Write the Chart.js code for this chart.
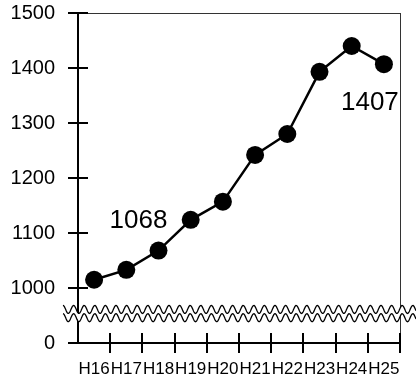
<!DOCTYPE html>
<html>
<head>
<meta charset="utf-8">
<script src="https://cdn.jsdelivr.net/npm/chart.js@4/dist/chart.umd.min.js"></script>
<style>
  html, body { margin: 0; padding: 0; background: #fff; }
  #wrap { width: 416px; height: 382px; }
</style>
</head>
<body>
<div id="wrap"><canvas id="c" width="416" height="382"></canvas></div>
<script>
"use strict";

// fiscal years (Heisei)
var years = ["H16", "H17", "H18", "H19", "H20", "H21", "H22", "H23", "H24", "H25"];
var counts = [1015, 1033, 1068, 1124, 1157, 1242, 1280, 1393, 1440, 1407];
var yTicks = [900, 1000, 1100, 1200, 1300, 1400, 1500];
// 900 stands in for 0 below the axis break
var yTickNames = ["0", "1000", "1100", "1200", "1300", "1400", "1500"];
var callouts = [{ index: 2, text: "1068" }, { index: 9, text: "1407" }];

var FONT = "'Liberation Sans', Arial, sans-serif";

// ticks crossing the axes, frame, wavy break, value callouts
var decorations = {
  id: "decorations",
  afterDatasetsDraw: function (chart) {
    var ctx = chart.ctx;
    var area = chart.chartArea;
    var xs = chart.scales.x;
    var ys = chart.scales.y;
    var i, p;

    ctx.save();

    // frame top and right
    ctx.strokeStyle = "#333";
    ctx.lineWidth = 1;
    ctx.beginPath();
    ctx.moveTo(area.left, area.top + 0.5);
    ctx.lineTo(area.right, area.top + 0.5);
    ctx.moveTo(area.right + 0.5, area.top);
    ctx.lineTo(area.right + 0.5, area.bottom);
    ctx.stroke();

    // axes
    ctx.strokeStyle = "#000";
    ctx.lineWidth = 2;
    ctx.beginPath();
    ctx.moveTo(area.left, area.top);
    ctx.lineTo(area.left, area.bottom);
    ctx.lineTo(area.right, area.bottom);
    ctx.stroke();

    // y ticks, across the axis
    ctx.lineWidth = 2;
    ctx.beginPath();
    for (i = 0; i < yTicks.length; i++) {
      p = Math.round(ys.getPixelForValue(yTicks[i]));
      ctx.moveTo(area.left - 10, p);
      ctx.lineTo(area.left + 10, p);
    }
    ctx.stroke();

    // x ticks on category boundaries
    ctx.beginPath();
    for (i = 1; i <= years.length; i++) {
      p = Math.round(xs.getPixelForValue(i - 0.5));
      ctx.moveTo(p, area.bottom - 10);
      ctx.lineTo(p, area.bottom + 10);
    }
    ctx.stroke();

    // axis break: two parallel waves, white between them
    var yTop = ys.getPixelForValue(961);
    var yBot = ys.getPixelForValue(946);
    var x0 = area.left - 15;
    var x1 = chart.width;
    var period = 10.6;
    var amp = 4;
    function wave(base) {
      var pts = [];
      for (var x = x0; x <= x1; x += 0.5) {
        pts.push([x, base - amp * Math.cos(((x - x0) / period) * 2 * Math.PI)]);
      }
      return pts;
    }
    var top = wave(yTop);
    var bot = wave(yBot);
    ctx.fillStyle = "#fff";
    ctx.beginPath();
    ctx.moveTo(top[0][0], top[0][1]);
    for (i = 1; i < top.length; i++) ctx.lineTo(top[i][0], top[i][1]);
    for (i = bot.length - 1; i >= 0; i--) ctx.lineTo(bot[i][0], bot[i][1]);
    ctx.closePath();
    ctx.fill();
    ctx.strokeStyle = "#000";
    ctx.lineWidth = 1.3;
    [top, bot].forEach(function (pts) {
      ctx.beginPath();
      ctx.moveTo(pts[0][0], pts[0][1]);
      for (var k = 1; k < pts.length; k++) ctx.lineTo(pts[k][0], pts[k][1]);
      ctx.stroke();
    });

    // callouts
    var meta = chart.getDatasetMeta(0);
    ctx.fillStyle = "#000";
    ctx.font = "26px " + FONT;
    ctx.textAlign = "center";
    ctx.textBaseline = "alphabetic";
    callouts.forEach(function (c) {
      var el = meta.data[c.index];
      var dx = c.index === 2 ? -20 : -14;
      var dy = c.index === 2 ? -23 : 46;
      ctx.fillText(c.text, el.x + dx, el.y + dy);
    });

    ctx.restore();
  }
};

new Chart(document.getElementById("c"), {
  type: "line",
  data: {
    labels: years,
    datasets: [{
      data: counts,
      borderColor: "#000",
      backgroundColor: "#000",
      borderWidth: 2.5,
      pointRadius: 9,
      pointHoverRadius: 9,
      pointBackgroundColor: "#000",
      pointBorderWidth: 0,
      tension: 0,
      clip: false
    }]
  },
  options: {
    responsive: false,
    animation: false,
    devicePixelRatio: 1,
    layout: { padding: { top: 13, right: 16, left: 0, bottom: 0 } },
    plugins: {
      legend: { display: false },
      tooltip: { enabled: false }
    },
    scales: {
      x: {
        offset: true,
        grid: { display: false },
        border: { display: false },
        ticks: {
          color: "#000",
          font: { family: FONT, size: 17 },
          padding: 8,
          maxRotation: 0,
          autoSkip: false
        },
        afterFit: function (scale) {
          scale.height = 39;
          scale.paddingLeft = 0;
          scale.paddingRight = 0;
        }
      },
      y: {
        min: 900,
        max: 1500,
        grid: { display: false },
        border: { display: false },
        afterBuildTicks: function (scale) {
          scale.ticks = yTicks.map(function (v) { return { value: v }; });
        },
        ticks: {
          color: "#000",
          font: { family: FONT, size: 20 },
          padding: 15,
          callback: function (value) {
            var i = yTicks.indexOf(value);
            return i >= 0 ? yTickNames[i] : "";
          }
        },
        afterFit: function (scale) {
          scale.width = 78;
          scale.paddingTop = 0;
          scale.paddingBottom = 0;
        }
      }
    }
  },
  plugins: [decorations]
});
</script>
</body>
</html>
